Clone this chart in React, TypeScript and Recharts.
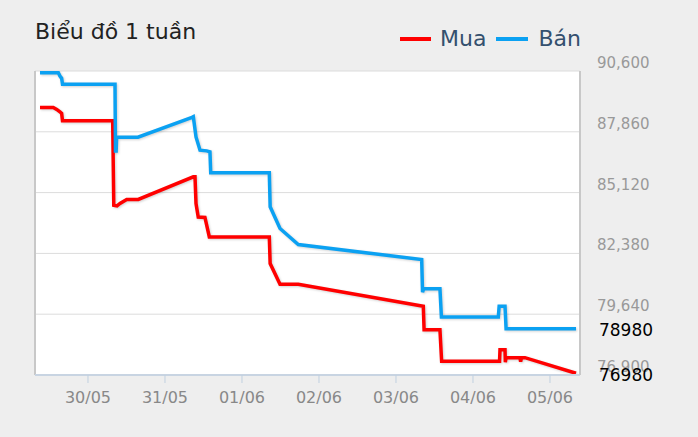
import React from 'react';
import { LineChart, Line, XAxis, YAxis, CartesianGrid, ReferenceLine } from 'recharts';

const dayLabels = ['30/05', '31/05', '01/06', '02/06', '03/06', '04/06', '05/06'];
const dayTicks = [0, 1, 2, 3, 4, 5, 6];
const priceTicks = [76900, 79640, 82380, 85120, 87860, 90600];

const banTime = [-0.623, -0.385, -0.364, -0.342, -0.331, 0.351, 0.357, 0.366, 0.372, 0.649, 1.351, 1.368, 1.403, 1.455, 1.542, 1.584, 1.594, 2.355, 2.366, 2.494, 2.731, 4.334, 4.345, 4.36, 4.571, 4.59, 5.329, 5.34, 5.416, 5.43, 6.338];
const banPrice = [90520, 90520, 90370, 90270, 90000, 90000, 87000, 87000, 87620, 87620, 88510, 88540, 87630, 87030, 87000, 86960, 86010, 86010, 84480, 83500, 82780, 82100, 80630, 80790, 80790, 79510, 79510, 80000, 80000, 78980, 78980];

const muaTime = [-0.623, -0.451, -0.406, -0.364, -0.342, -0.331, 0.321, 0.335, 0.377, 0.416, 0.503, 0.653, 1.368, 1.39, 1.403, 1.432, 1.519, 1.576, 2.355, 2.366, 2.494, 2.731, 4.355, 4.365, 4.571, 4.593, 5.345, 5.351, 5.416, 5.42, 5.43, 5.61, 5.619, 5.63, 5.675, 6.338];
const muaPrice = [88960, 88960, 88870, 88760, 88690, 88360, 88360, 84550, 84520, 84630, 84810, 84810, 85830, 85830, 84630, 84020, 84000, 83120, 83120, 81920, 80990, 80990, 79995, 78940, 78940, 77520, 77520, 78040, 78040, 77480, 77680, 77680, 77500, 77680, 77680, 76980];

const banData = banTime.map((t, i) => ({ t, v: banPrice[i] }));
const muaData = muaTime.map((t, i) => ({ t, v: muaPrice[i] }));

const RED = '#ff0000';
const BLUE = '#0ba1f2';
const FONT = '"DejaVu Sans", Verdana, sans-serif';

const lastLabel = (len: number) => (props: any) => {
  if (props.index !== len - 1) return null;
  return (
    <text x={props.x + 23} y={props.y + 1.5} fontSize={17} fill="#000" fontFamily={FONT} dominantBaseline="central">
      {String(props.value)}
    </text>
  );
};

const YTick = (props: any) => (
  <text x={props.x} y={props.y - 8} fontSize={15} fill="#999" fontFamily={FONT} dominantBaseline="central" textAnchor="start">
    {Number(props.payload.value).toLocaleString('en-US')}
  </text>
);

const XTick = (props: any) => (
  <text x={props.x} y={props.y + 12.5} fontSize={16} fill="#888" fontFamily={FONT} dominantBaseline="central" textAnchor="middle">
    {dayLabels[props.payload.value]}
  </text>
);

export default function App() {
  return (
    <div style={{ position: 'absolute', left: 0, top: 0, width: 698, height: 437, background: '#eeeeee', overflow: 'hidden' }}>
      <style>{`.recharts-line-curve { filter: drop-shadow(1px 1px 1px rgba(0,0,0,0.18)); }`}</style>
      <div style={{ position: 'absolute', left: 35, top: 19, fontFamily: FONT, fontSize: 22, color: '#222', lineHeight: '26px', whiteSpace: 'nowrap' }}>
        Biểu đồ 1 tuần
      </div>
      <div style={{ position: 'absolute', left: 400, top: 26, display: 'flex', alignItems: 'center', fontFamily: FONT, fontSize: 22, color: '#34506e', lineHeight: '26px', whiteSpace: 'nowrap' }}>
        <span style={{ display: 'inline-block', width: 31, height: 4, background: RED, marginRight: 9 }} />
        <span style={{ marginRight: 10 }}>Mua</span>
        <span style={{ display: 'inline-block', width: 32, height: 4, background: BLUE, marginRight: 10 }} />
        <span>Bán</span>
      </div>
      <LineChart width={698} height={437} margin={{ top: 71, right: 18, bottom: 32, left: 35 }} style={{ position: 'absolute', left: 0, top: 0 }}>
        <CartesianGrid vertical={false} stroke="#dcdcdc" fill="#ffffff" />
        <XAxis
          type="number"
          dataKey="t"
          domain={[-0.688, 6.39]}
          allowDataOverflow
          ticks={dayTicks}
          interval={0}
          tick={<XTick />}
          tickSize={8}
          tickMargin={2}
          height={30}
          axisLine={{ stroke: '#c8d4e2', strokeWidth: 2 }}
          tickLine={{ stroke: '#c0d0e0' }}
        />
        <YAxis
          orientation="right"
          type="number"
          domain={[76900, 90600]}
          allowDataOverflow
          ticks={priceTicks}
          interval={0}
          width={100}
          tickSize={0}
          tickMargin={17}
          tick={<YTick />}
          axisLine={{ stroke: '#c8c8c8', strokeWidth: 2 }}
          tickLine={false}
        />
        <ReferenceLine x={-0.688} stroke="#c8c8c8" strokeWidth={2} ifOverflow="extendDomain" />
        <Line data={muaData} dataKey="v" name="Mua" type="linear" stroke={RED} strokeWidth={3.5} dot={false} activeDot={false} isAnimationActive={false} label={lastLabel(muaData.length)} />
        <Line data={banData} dataKey="v" name="Bán" type="linear" stroke={BLUE} strokeWidth={3.5} dot={false} activeDot={false} isAnimationActive={false} label={lastLabel(banData.length)} />
      </LineChart>
    </div>
  );
}
